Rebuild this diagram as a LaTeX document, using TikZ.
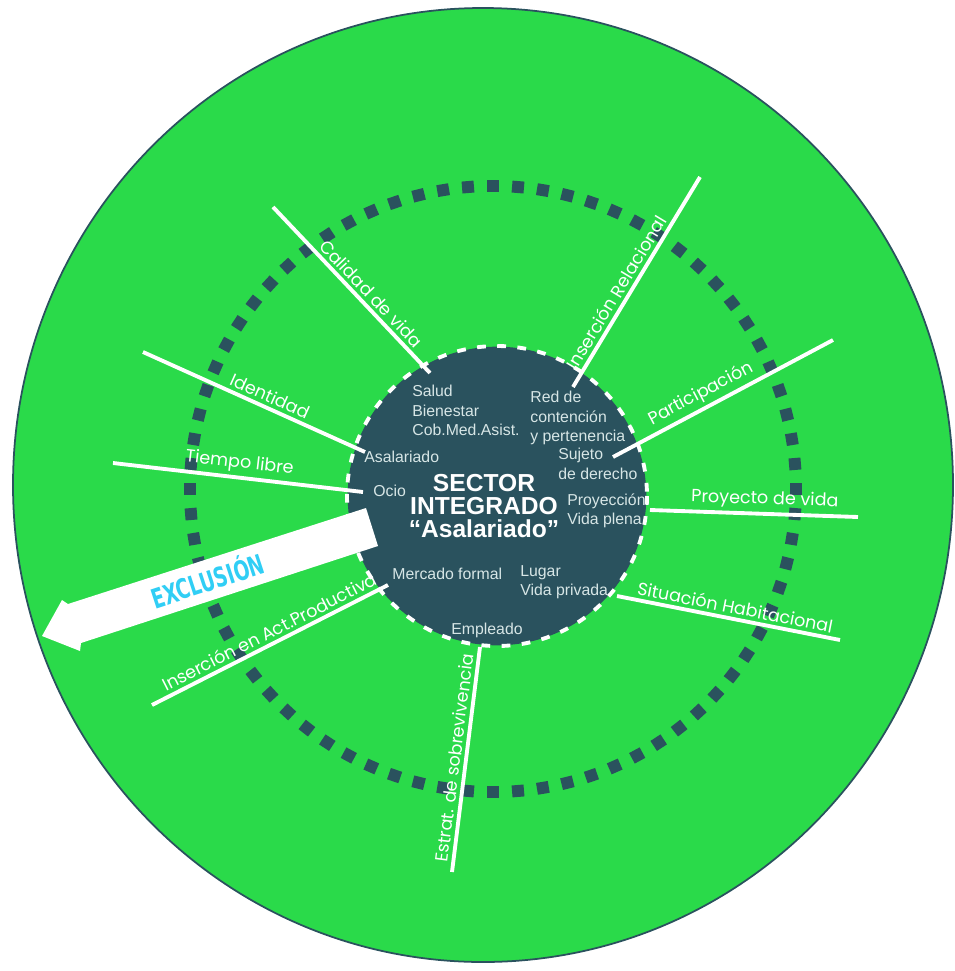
\documentclass[tikz,border=0pt]{standalone}
\usepackage{fontspec}
\setmainfont{Liberation Sans}
\newfontfamily\gothic{Poppins}
\newfontfamily\blocky{DejaVu Sans}
\usetikzlibrary{positioning}
\definecolor{leafgreen}{RGB}{42,218,74}
\definecolor{deepteal}{RGB}{42,82,94}
\definecolor{exccyan}{RGB}{48,206,245}
\definecolor{palegray}{RGB}{215,230,230}

\begin{document}
\begin{tikzpicture}[x=0.02cm, y=-0.02cm,
  spoke/.style={white, line width=2.2pt},
  spoketext/.style={sloped, above, text=white, inner sep=1.8pt, font=\gothic\fontsize{10}{11}\selectfont},
  innertext/.style={text=palegray, align=left, inner sep=0pt, anchor=north west, font=\fontsize{9}{11}\selectfont},
  sqdot/.style={fill=deepteal, minimum size=6.8pt, inner sep=0pt}]

\useasboundingbox (0,0) rectangle (955,971);

% outer disc
\filldraw[fill=leafgreen, draw=deepteal, line width=1pt] (483,485) ellipse [x radius=470, y radius=477];
\coordinate (mid) at (493,489);

% ring of squares
\foreach \i [evaluate=\i as \a using \i*4.7368] in {1,...,76}
  \path (mid) ++(\a:303) node[sqdot, rotate=-\a] (sq\i) {};

% core
\node[circle, fill=deepteal, minimum size=170pt, inner sep=0pt] (core) at (497,496) {};
\draw[white, line width=2.2pt, dash pattern=on 5pt off 6.5pt] (core.center) circle[radius=150];

% spoke ends
\coordinate (cal1) at (273,207);  \coordinate (cal2) at (430,373);
\coordinate (rel1) at (573,387);  \coordinate (rel2) at (700,177);
\coordinate (par1) at (613,457);  \coordinate (par2) at (833,340);
\coordinate (pro1) at (650,510);  \coordinate (pro2) at (858,517);
\coordinate (hab1) at (617,596);  \coordinate (hab2) at (840,640);
\coordinate (est1) at (452,872);  \coordinate (est2) at (480,647);
\coordinate (act1) at (152,705);  \coordinate (act2) at (388,585);
\coordinate (tie1) at (113,463);  \coordinate (tie2) at (363,492);
\coordinate (ide1) at (143,352);  \coordinate (ide2) at (365,452);

% spokes
\draw[spoke] (cal1) -- node[spoketext, pos=0.57] {Calidad de vida} (cal2);
\draw[spoke] (rel1) -- node[spoketext, pos=0.42] {Inserción Relacional} (rel2);
\draw[spoke] (par1) -- node[spoketext, pos=0.43] {Participación} (par2);
\draw[spoke] (pro1) -- node[spoketext, pos=0.55] {Proyecto de vida} (pro2);
\draw[spoke] (hab1) -- node[spoketext, pos=0.52] {Situación Habitacional} (hab2);
\draw[spoke] (est1) -- node[spoketext, pos=0.5] {Estrat. de sobrevivencia} (est2);
\draw[spoke] (act1) -- node[spoketext, pos=0.52] {Inserción en Act.Productiva} (act2);
\draw[spoke] (tie1) -- node[spoketext, pos=0.5] {Tiempo libre} (tie2);
\draw[spoke] (ide1) -- node[spoketext, pos=0.55] {Identidad} (ide2);

% inner labels
\node[innertext] (salud) at (412,385) {Salud\\Bienestar\\Cob.Med.Asist.};
\node[innertext] (red) at (530,391) {Red de\\contención\\y pertenencia};
\node[innertext] (sujeto) at (558,448) {Sujeto\\de derecho};
\node[innertext] (asal) at (364,451) {Asalariado};
\node[innertext] (ocio) at (373,485) {Ocio};
\node[innertext] (proy) at (567,493) {Proyección\\Vida plena};
\node[innertext] (merc) at (392,568) {Mercado formal};
\node[innertext] (lugar) at (520,565) {Lugar\\Vida privada};
\node[innertext, anchor=north] (empl) at (487,623) {Empleado};
\node[text=white, align=center, font=\bfseries\fontsize{14}{13.2}\selectfont] (sector) at (484,506)
  {SECTOR\\INTEGRADO\\“Asalariado”};

% exclusion arrow
\fill[white] (366,508) -- (68,604) -- (62,600) -- (42,636) -- (80,651) -- (81,643) -- (378,546) -- cycle;
\node[text=exccyan, rotate=18.1, inner sep=0pt, font=\blocky\bfseries\fontsize{15.5}{15}\selectfont] (excl) at (207,579)
  {\scalebox{0.68}[1]{EXCLUSIÓN}};
\end{tikzpicture}
\end{document}
